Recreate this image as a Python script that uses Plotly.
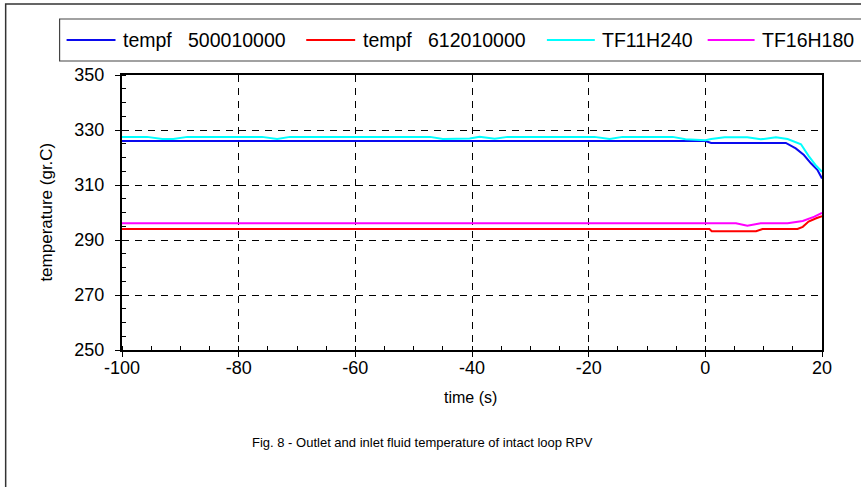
import plotly.graph_objects as go

# ---- data ----
t_blue = [-100, 0, 1, 13.8, 15.5, 16.9, 18.1, 19.2, 20]
v_blue = [326.0, 326.0, 325.3, 325.3, 323.3, 320.9, 317.9, 315.5, 312.4]

t_red = [-100, 0.7, 1.1, 8.7, 9.8, 15.8, 16.7, 17.7, 19, 20]
v_red = [294.0, 294.0, 293.2, 293.2, 294.0, 294.0, 294.8, 296.7, 297.9, 298.7]

t_cyan = [-100, -95.7, -93.1, -91.2, -88.8, -76, -73.4, -71.2, -47.2, -45, -40.4,
          -38.7, -36.1, -33.9, -19, -16.4, -14.2, -5.6, -3.4, 0, 1, 3.3, 7.2, 9.5,
          12.1, 14.1, 16.4, 17.7, 19, 20]
v_cyan = [327.5, 327.5, 326.7, 326.7, 327.5, 327.5, 326.7, 327.5, 327.5, 326.7, 326.9,
          327.5, 326.8, 327.5, 327.5, 326.7, 327.5, 327.5, 326.6, 326.3, 326.7, 327.4, 327.4, 326.6,
          327.4, 326.7, 324.8, 320.6, 317.0, 314.8]

t_mag = [-100, 5.25, 7.2, 9.5, 14.1, 16.7, 18.7, 20]
v_mag = [296.1, 296.1, 295.2, 296.1, 296.1, 296.9, 298.5, 299.9]

series_names = ["tempf\u00a0\u00a0\u00a0500010000", "tempf\u00a0\u00a0\u00a0612010000", "TF11H240", "TF16H180"]
series_colors = ["#0A0AEE", "#FF0000", "#00FFFF", "#FF00FF"]

x_ticks = [-100, -80, -60, -40, -20, 0, 20]
x_tick_labels = ["-100", "-80", "-60", "-40", "-20", "0", "20"]
y_ticks = [250, 270, 290, 310, 330, 350]
y_tick_labels = ["250", "270", "290", "310", "330", "350"]

title_text = "Fig. 8 - Outlet and inlet fluid temperature of intact loop RPV"
x_title = "time (s)"
y_title = "temperature (gr.C)"

# ---- layout geometry (pixels) ----
W, H = 861, 487
L, R, T, B = 121.5, 822.5, 75, 350
pw, ph = R - L, B - T


def px(x):
    return (x - L) / pw


def py(y):
    return (B - y) / ph


FONT = "Liberation Sans, Arial, sans-serif"

fig = go.Figure()
data = [(t_blue, v_blue), (t_red, v_red), (t_cyan, v_cyan), (t_mag, v_mag)]
for (t, v), name, col in zip(data, series_names, series_colors):
    fig.add_trace(go.Scatter(x=t, y=v, mode="lines", name=name,
                             line=dict(color=col, width=2), showlegend=False))

shapes = []
annotations = []
# outer frame
shapes.append(dict(type="rect", xref="paper", yref="paper", x0=px(5), x1=px(880),
                   y0=py(520), y1=py(4), line=dict(color="#333333", width=1.5),
                   layer="below"))
# legend box
shapes.append(dict(type="rect", xref="paper", yref="paper", x0=px(59), x1=px(880),
                   y0=py(61), y1=py(19), line=dict(color="#444444", width=1.2),
                   layer="below"))
leg_line_x = [(66, 115), (306, 355), (547, 595), (708, 755)]
leg_text_x = [120, 361, 600, 760]
ly = 40
for (a, b), tx, name, col in zip(leg_line_x, leg_text_x, series_names, series_colors):
    shapes.append(dict(type="line", xref="paper", yref="paper", x0=px(a), x1=px(b),
                       y0=py(ly), y1=py(ly), line=dict(color=col, width=2)))
    annotations.append(dict(text=name, xref="paper", yref="paper", x=px(tx), y=py(ly),
                            xanchor="left", yanchor="middle", showarrow=False,
                            font=dict(family=FONT, size=19.5, color="black")))

annotations.append(dict(text=x_title, xref="paper", yref="paper", x=px(470), y=py(397),
                        xanchor="center", yanchor="middle", showarrow=False,
                        font=dict(family=FONT, size=16, color="black")))
annotations.append(dict(text=y_title, xref="paper", yref="paper", x=px(45), y=py(212),
                        xanchor="center", yanchor="middle", showarrow=False, textangle=-90,
                        font=dict(family=FONT, size=17, color="black")))
annotations.append(dict(text=title_text, xref="paper", yref="paper", x=px(422), y=py(442),
                        xanchor="center", yanchor="middle", showarrow=False,
                        font=dict(family=FONT, size=13, color="black")))

fig.update_layout(
    width=W, height=H,
    margin=dict(l=L, r=W - R, t=T, b=H - B, pad=0),
    paper_bgcolor="white", plot_bgcolor="white",
    shapes=shapes, annotations=annotations,
    font=dict(family=FONT, size=15, color="black"),
    showlegend=False,
)
fig.update_xaxes(range=[-100, 20], tickvals=x_ticks, ticktext=x_tick_labels,
                 ticks="outside", ticklen=5,
                 tickcolor="black", tickwidth=1, showline=True, linecolor="black",
                 linewidth=2, mirror=True, showgrid=True, gridcolor="black",
                 gridwidth=1, griddash="7px,6px", zeroline=False,
                 ticklabelstandoff=-5,
                 tickfont=dict(family=FONT, size=18, color="black"),
                 minor=dict(dtick=5, ticks="inside", ticklen=4, tickcolor="black",
                            showgrid=False))
fig.update_yaxes(range=[250, 350], tickvals=y_ticks, ticktext=y_tick_labels,
                 ticks="outside", ticklen=5,
                 tickcolor="black", tickwidth=1, showline=True, linecolor="black",
                 linewidth=2, mirror=True, showgrid=True, gridcolor="black",
                 gridwidth=1, griddash="7px,6px", zeroline=False,
                 ticklabelstandoff=7,
                 tickfont=dict(family=FONT, size=18, color="black"),
                 minor=dict(dtick=5, ticks="inside", ticklen=4, tickcolor="black",
                            showgrid=False))

fig.write_html("out.html")
